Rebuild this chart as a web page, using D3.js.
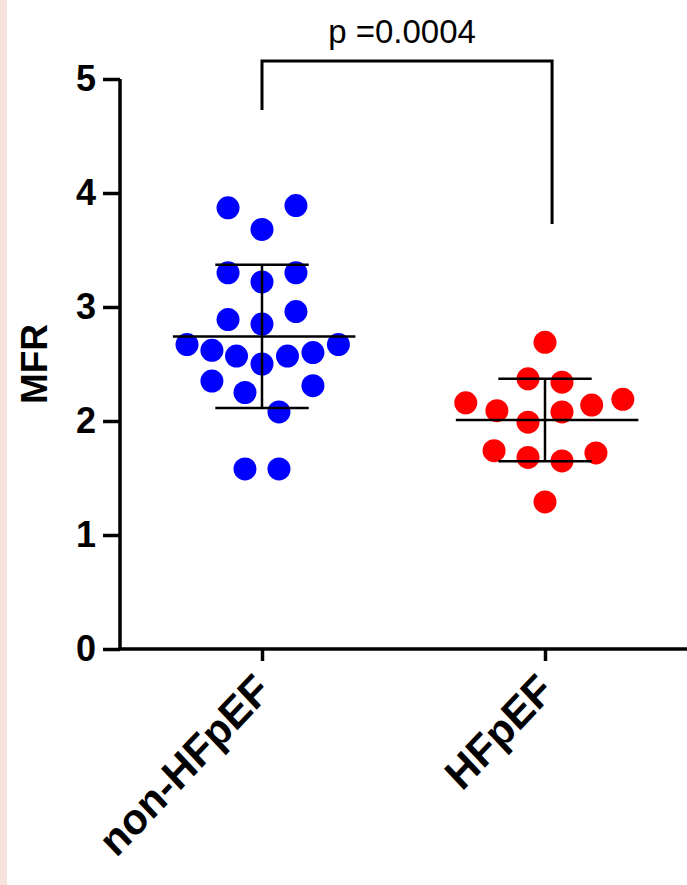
<!DOCTYPE html>
<html>
<head>
<meta charset="utf-8">
<script src="https://cdn.jsdelivr.net/npm/d3@7"></script>
<style>
  html, body { margin: 0; padding: 0; background: #fff; }
  svg { display: block; font-family: "Liberation Sans", Arial, sans-serif; }
</style>
</head>
<body>
<div id="chart"></div>
<script>
var groups = ["non-HFpEF", "HFpEF"];
var colors = ["#0000ff", "#ff0000"];

// MFR values per patient
var nonHfpefValues = [3.87, 3.89, 3.68, 3.30, 3.30, 3.22, 2.89, 2.96, 2.85, 2.67, 2.62,
  2.57, 2.50, 2.57, 2.60, 2.67, 2.35, 2.25, 2.31, 2.08, 1.58, 1.58];
// horizontal scatter of each dot, in category units
var nonHfpefJitter = [-0.12, 0.12, 0, -0.12, 0.12, 0, -0.12, 0.12, 0, -0.265, -0.177,
  -0.09, 0, 0.09, 0.18, 0.27, -0.177, -0.06, 0.18, 0.06, -0.06, 0.06];

var hfpefValues = [2.69, 2.37, 2.34, 2.16, 2.09, 1.99, 2.08, 2.14, 2.19, 1.74, 1.68,
  1.65, 1.72, 1.29];
var hfpefJitter = [0, -0.06, 0.06, -0.28, -0.17, -0.06, 0.06, 0.165, 0.275, -0.18, -0.06,
  0.06, 0.18, 0];

var yTicks = [0, 1, 2, 3, 4, 5];
var pLabel = "p =0.0004";

var width = 687;
var height = 885;

var svg = d3.select("#chart")
  .append("svg")
  .attr("width", width)
  .attr("height", height);

// pink strip on the left edge
svg.append("rect")
  .attr("x", 0).attr("y", 0)
  .attr("width", 7).attr("height", height)
  .attr("fill", "#f8e2de");

var y = d3.scaleLinear().domain([0, 5]).range([649, 79]);
var x = d3.scaleLinear().domain([0, 1]).range([262, 545]);

var series = [
  { name: groups[0], values: nonHfpefValues, jitter: nonHfpefJitter, color: colors[0], i: 0 },
  { name: groups[1], values: hfpefValues, jitter: hfpefJitter, color: colors[1], i: 1 }
];

// dots
series.forEach(function (s) {
  svg.append("g")
    .selectAll("circle")
    .data(s.values)
    .enter()
    .append("circle")
    .attr("cx", function (d, k) { return x(s.i + s.jitter[k]); })
    .attr("cy", function (d) { return y(d); })
    .attr("r", 11.5)
    .attr("fill", s.color);
});

// mean and SD bars
series.forEach(function (s) {
  var m = d3.mean(s.values);
  var sd = d3.deviation(s.values);
  var g = svg.append("g")
    .attr("stroke", "#000")
    .attr("stroke-width", 2.5);
  g.append("line")
    .attr("x1", x(s.i - 0.315)).attr("x2", x(s.i + 0.33))
    .attr("y1", y(m)).attr("y2", y(m));
  g.append("line")
    .attr("x1", x(s.i)).attr("x2", x(s.i))
    .attr("y1", y(m - sd)).attr("y2", y(m + sd));
  [m - sd, m + sd].forEach(function (v) {
    g.append("line")
      .attr("x1", x(s.i - 0.165)).attr("x2", x(s.i + 0.165))
      .attr("y1", y(v)).attr("y2", y(v));
  });
});

// y axis
var yAxis = svg.append("g")
  .attr("transform", "translate(120,0)")
  .call(d3.axisLeft(y).tickValues(yTicks).tickSize(17).tickPadding(7).tickFormat(d3.format("d")));
yAxis.select(".domain").attr("d", "M0," + y(5) + "V" + y(0));
yAxis.selectAll("path, line").attr("stroke", "#000").attr("stroke-width", 3.5);
yAxis.selectAll("text")
  .attr("fill", "#000")
  .attr("font-size", 36)
  .attr("font-weight", "bold")
  .attr("font-family", "Liberation Sans, Arial, sans-serif");

// x axis
var xAxis = svg.append("g")
  .attr("transform", "translate(0," + y(0) + ")")
  .call(d3.axisBottom(x).tickValues([0, 1]).tickSize(12).tickFormat(function (d) { return groups[d]; }));
xAxis.select(".domain").attr("d", "M118,0H" + width);
xAxis.selectAll("path, line").attr("stroke", "#000").attr("stroke-width", 3.5);
xAxis.selectAll("text")
  .attr("fill", "#000")
  .attr("font-size", 41)
  .attr("font-weight", "bold")
  .attr("font-family", "Liberation Sans, Arial, sans-serif")
  .attr("text-anchor", "end")
  .attr("dy", null)
  .attr("transform", "translate(10,44) scale(1,1.06) rotate(-45)")
  .attr("y", 0);

// y label
svg.append("text")
  .attr("transform", "translate(47," + y(2.5) + ") rotate(-90)")
  .attr("text-anchor", "middle")
  .attr("font-size", 37)
  .attr("font-weight", "bold")
  .text("MFR");

// significance bracket
var bracketY = 61;
svg.append("path")
  .attr("d", "M" + x(0) + "," + 110 + "V" + bracketY + "H" + x(1.025) + "V" + 224)
  .attr("fill", "none")
  .attr("stroke", "#000")
  .attr("stroke-width", 3);
svg.append("text")
  .attr("x", 402)
  .attr("y", 43)
  .attr("text-anchor", "middle")
  .attr("font-size", 33)
  .text(pLabel);
</script>
</body>
</html>
